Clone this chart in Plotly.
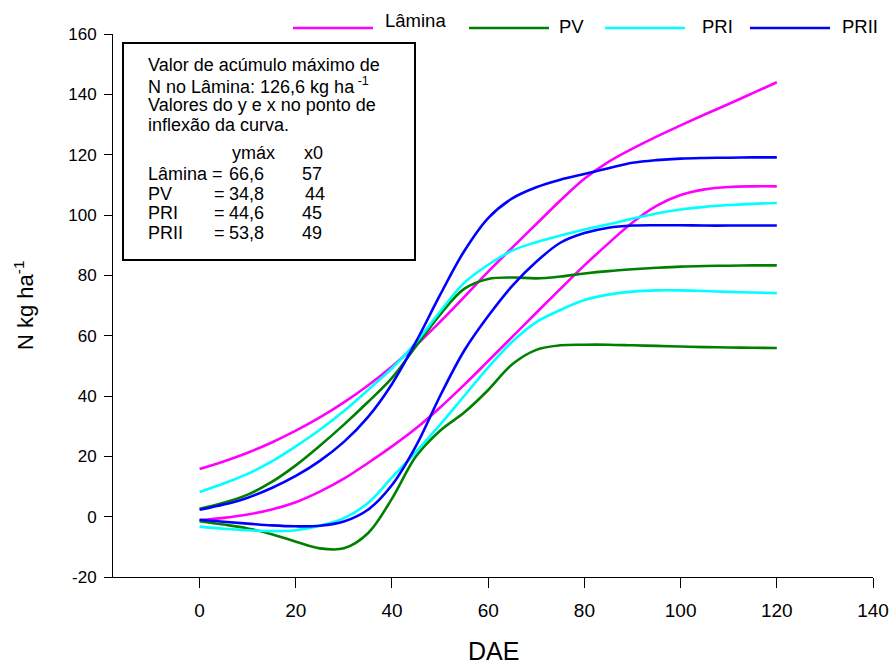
import plotly.graph_objects as go

# ---------------- data ----------------
dae = [0, 5, 10, 15, 20, 25, 30, 35, 40, 45, 50, 55, 60, 65, 70, 75, 80, 85, 90, 95, 100, 105, 110, 115, 120]

lamina_sup = [15.8, 18.3, 21.2, 24.6, 28.5, 32.9, 37.9, 43.5, 49.8, 56.8, 64.6, 72.8, 81.2, 89.2, 97.0, 104.8, 112.0, 117.6, 122.0, 126.0, 129.7, 133.3, 136.8, 140.4, 144.0]
lamina_inf = [-1.2, -0.4, 0.7, 2.4, 4.8, 8.3, 12.6, 17.8, 23.3, 29.3, 36.2, 43.7, 51.6, 59.6, 67.6, 75.5, 83.3, 90.6, 97.5, 103.0, 106.6, 108.5, 109.3, 109.5, 109.5]

pv_sup = [2.6, 4.6, 7.3, 11.5, 17.0, 23.5, 30.5, 38.0, 46.0, 56.5, 67.0, 75.5, 78.8, 79.3, 79.0, 79.6, 80.6, 81.4, 82.0, 82.5, 82.9, 83.1, 83.2, 83.3, 83.3]
pv_inf = [-1.5, -2.6, -3.9, -5.8, -8.3, -10.5, -10.5, -5.5, 6.0, 20.0, 28.5, 34.5, 42.0, 50.5, 55.3, 56.8, 57.0, 57.0, 56.8, 56.6, 56.4, 56.2, 56.1, 56.0, 55.9]

pri_sup = [8.2, 11.0, 14.2, 18.3, 23.3, 28.8, 35.0, 42.0, 49.2, 57.8, 68.0, 77.5, 83.5, 88.2, 91.0, 93.2, 95.2, 96.9, 98.8, 100.5, 101.8, 102.7, 103.3, 103.7, 104.0]
pri_inf = [-3.3, -4.0, -4.5, -4.8, -4.5, -3.0, -0.5, 4.5, 13.0, 21.5, 30.5, 40.0, 49.5, 58.0, 64.5, 68.5, 71.8, 73.6, 74.6, 75.0, 75.0, 74.8, 74.5, 74.3, 74.1]

prii_sup = [2.3, 4.0, 6.3, 9.5, 13.5, 18.5, 24.8, 33.0, 44.0, 58.0, 73.5, 88.0, 99.0, 105.5, 109.2, 111.7, 113.6, 115.5, 117.3, 118.2, 118.7, 118.9, 119.0, 119.1, 119.1]
prii_inf = [-1.0, -1.7, -2.3, -2.9, -3.2, -3.0, -1.6, 2.3, 10.5, 23.5, 40.0, 55.0, 66.5, 76.5, 84.5, 90.8, 94.0, 95.8, 96.5, 96.6, 96.6, 96.5, 96.5, 96.5, 96.5]

series_names = ["Lâmina", "PV", "PRI", "PRII"]
series_colors = ["#FF00FF", "#008000", "#00FFFF", "#0000FF"]
series_data = [(lamina_sup, lamina_inf), (pv_sup, pv_inf), (pri_sup, pri_inf), (prii_sup, prii_inf)]

x_ticks = [0, 20, 40, 60, 80, 100, 120, 140]
y_ticks = [-20, 0, 20, 40, 60, 80, 100, 120, 140, 160]

box_lines = [
    "Valor de acúmulo máximo de",
    "N no Lâmina: 126,6 kg ha<sup> -1</sup>",
    "Valores do y e x no ponto de",
    "inflexão da curva.",
]
table_labels = ["Lâmina =", "PV", "PRI", "PRII"]
table_ymax = ["66,6", "34,8", "44,6", "53,8"]
table_x0 = ["57", "44", "45", "49"]

# ---------------- layout helpers ----------------
W, H = 890, 665
L, R, T, B = 113, 873, 34, 577
FONT = "Arial, Liberation Sans, sans-serif"


def px(xp):
    """page pixel x -> paper x"""
    return (xp - L) / (R - L)


def py(yp):
    """page pixel y -> paper y"""
    return (B - yp) / (B - T)


def txt(x, y, text, size, anchor="left"):
    return dict(xref="paper", yref="paper", x=px(x), y=py(y), text=text, showarrow=False,
                xanchor=anchor, yanchor="middle", font=dict(family=FONT, size=size, color="black"))


fig = go.Figure()
for name, color, (sup, inf) in zip(series_names, series_colors, series_data):
    for ys in (sup, inf):
        fig.add_trace(go.Scatter(
            x=dae, y=ys, mode="lines", name=name, showlegend=False,
            line=dict(color=color, width=2.6, shape="spline", smoothing=1.0),
        ))

shapes = []
annotations = []

# legend (top)
leg = [(293, 373, 383, "Lâmina", 20), (469, 549, 557, "PV", 27), (605, 685, 700, "PRI", 26), (750, 830, 840, "PRII", 26)]
for (x0, x1, xt, label, yt), color in zip(leg, series_colors):
    shapes.append(dict(type="line", xref="paper", yref="paper", x0=px(x0), x1=px(x1), y0=py(28), y1=py(28),
                       line=dict(color=color, width=2.6)))
    annotations.append(txt(xt, yt, label, 18.5))

# text box
shapes.append(dict(type="rect", xref="paper", yref="paper", x0=px(123), x1=px(415), y0=py(260), y1=py(43),
                   line=dict(color="black", width=2), fillcolor="white", layer="below"))
for i, t in enumerate(box_lines):
    annotations.append(txt(146, 65 + 20 * i, t, 18))
annotations.append(txt(230, 153, "ymáx", 18))
annotations.append(txt(302, 153, "x0", 18))
for i, (lab, ym, x0v) in enumerate(zip(table_labels, table_ymax, table_x0)):
    yy = 174 + 19.7 * i
    annotations.append(txt(146, yy, lab, 18))
    if i > 0:
        annotations.append(txt(212, yy, "=", 18))
    annotations.append(txt(227, yy, ym, 18))
    annotations.append(txt(300 if i != 1 else 303, yy, x0v, 18))

# axis titles
annotations.append(txt(493, 651, "DAE", 25, anchor="center"))
ytitle = txt(24, 305, "N kg ha<sup>-1</sup>", 22, anchor="center")
ytitle["textangle"] = -90
annotations.append(ytitle)

fig.update_layout(
    width=W, height=H,
    margin=dict(l=L, r=W - R, t=T, b=H - B, pad=0, autoexpand=False),
    paper_bgcolor="white", plot_bgcolor="white",
    font=dict(family=FONT, size=16, color="black"),
    shapes=shapes, annotations=annotations,
    showlegend=False,
)
fig.update_xaxes(range=[-18, 140], tickvals=x_ticks, ticktext=[str(v) for v in x_ticks],
                 showline=True, linecolor="black", linewidth=1, ticks="outside", ticklen=10,
                 tickcolor="black", tickwidth=1, showgrid=False, zeroline=False, automargin=False,
                 tickfont=dict(family=FONT, size=19, color="black"), ticklabelstandoff=6)
fig.update_yaxes(range=[-20, 160], tickvals=y_ticks, ticktext=[str(v) for v in y_ticks],
                 showline=True, linecolor="black", linewidth=1, ticks="outside", ticklen=8,
                 tickcolor="black", tickwidth=1, showgrid=False, zeroline=False, automargin=False,
                 tickfont=dict(family=FONT, size=17, color="black"), ticklabelstandoff=4)

# place the figure at the page origin (no default body margin), no mode bar
fig.write_html("out.html", config={"displayModeBar": False},
               post_script="document.body.style.margin='0';document.body.style.overflow='hidden';")
